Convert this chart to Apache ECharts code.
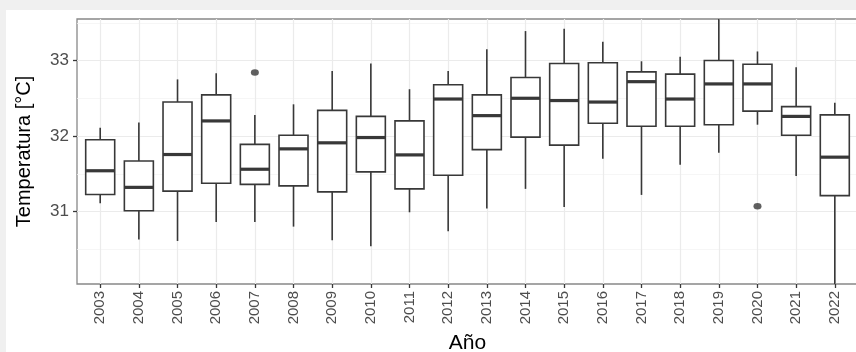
<!DOCTYPE html>
<html>
<head>
<meta charset="utf-8">
<script src="https://cdn.jsdelivr.net/npm/echarts@6/dist/echarts.min.js"></script>
<style>
  html, body { margin: 0; padding: 0; background: #f0f0f0; }
  #sheet { position: absolute; left: 6px; top: 10px; width: 850px; height: 342px; background: #fff; }
  #chart { position: absolute; left: 0; top: 0; width: 856px; height: 352px; }
</style>
</head>
<body>
<div id="sheet"></div>
<div id="chart"></div>
<script>
const years = ['2003', '2004', '2005', '2006', '2007', '2008', '2009', '2010', '2011', '2012',
  '2013', '2014', '2015', '2016', '2017', '2018', '2019', '2020', '2021', '2022'];
const whiskerLow = [31.11, 30.63, 30.61, 30.86, 30.86, 30.80, 30.62, 30.54, 30.99, 30.74,
  31.04, 31.30, 31.06, 31.70, 31.22, 31.62, 31.78, 32.15, 31.47, 30.00];
const q1 = [31.225, 31.01, 31.27, 31.375, 31.36, 31.34, 31.26, 31.525, 31.30, 31.48,
  31.82, 31.985, 31.88, 32.17, 32.13, 32.13, 32.15, 32.33, 32.01, 31.21];
const medians = [31.54, 31.32, 31.755, 32.20, 31.56, 31.83, 31.91, 31.98, 31.75, 32.49,
  32.27, 32.50, 32.47, 32.45, 32.72, 32.49, 32.69, 32.69, 32.26, 31.72];
const q3 = [31.95, 31.67, 32.45, 32.545, 31.89, 32.01, 32.34, 32.26, 32.20, 32.68,
  32.545, 32.775, 32.96, 32.97, 32.85, 32.82, 33.00, 32.95, 32.39, 32.28];
const whiskerHigh = [32.11, 32.18, 32.75, 32.83, 32.28, 32.42, 32.86, 32.96, 32.62, 32.86,
  33.15, 33.39, 33.42, 33.25, 32.99, 33.05, 33.56, 33.12, 32.91, 32.44];
const outlierYears = ['2007', '2020'];
const outlierValues = [32.84, 31.07];
const yTicks = [31, 32, 33];

const ink = '#383838';
const font = 'Liberation Sans';

const boxData = years.map((y, i) => [i, whiskerLow[i], q1[i], medians[i], q3[i], whiskerHigh[i]]);
const outlierData = outlierYears.map((y, i) => [years.indexOf(y), outlierValues[i]]);

function renderBox(params, api) {
  const x = api.value(0);
  const lo = api.coord([x, api.value(1)]);
  const a = api.coord([x, api.value(2)]);
  const m = api.coord([x, api.value(3)]);
  const b = api.coord([x, api.value(4)]);
  const hi = api.coord([x, api.value(5)]);
  const w = api.size([0.75, 0])[0];
  const line = { stroke: ink, lineWidth: 1.6 };
  return {
    type: 'group',
    children: [
      { type: 'line', shape: { x1: lo[0], y1: lo[1], x2: a[0], y2: a[1] }, style: line },
      { type: 'line', shape: { x1: b[0], y1: b[1], x2: hi[0], y2: hi[1] }, style: line },
      { type: 'rect', shape: { x: b[0] - w / 2, y: b[1], width: w, height: a[1] - b[1] },
        style: { fill: '#fff', stroke: ink, lineWidth: 1.6 } },
      { type: 'line', shape: { x1: m[0] - w / 2, y1: m[1], x2: m[0] + w / 2, y2: m[1] },
        style: { stroke: ink, lineWidth: 3.2 } }
    ]
  };
}

const chart = echarts.init(document.getElementById('chart'));
chart.setOption({
  animation: false,
  backgroundColor: 'transparent',
  textStyle: { fontFamily: font },
  grid: {
    left: 77, right: -2, top: 19, bottom: 68,
    outerBoundsMode: 'none',
    show: true, borderColor: '#888', borderWidth: 1.3, backgroundColor: 'transparent'
  },
  xAxis: {
    type: 'value',
    min: -0.6,
    max: 19.6,
    splitNumber: 20,
    name: 'Año',
    nameLocation: 'middle',
    nameGap: 45,
    nameTextStyle: { fontSize: 21, color: '#000', fontFamily: font },
    axisLine: { show: false, onZero: false },
    axisTick: { show: true, length: 4, customValues: years.map((y, i) => i),
      lineStyle: { color: ink, width: 1.3 } },
    axisLabel: {
      customValues: years.map((y, i) => i),
      rotate: 90, margin: 7, fontSize: 15, color: '#4d4d4d', fontFamily: font,
      formatter: v => years[Math.round(v)] || ''
    },
    splitLine: { show: true, lineStyle: { color: '#ebebeb', width: 1.2 } }
  },
  yAxis: {
    type: 'value',
    min: 30.04,
    max: 33.55,
    splitNumber: 3,
    name: 'Temperatura [°C]',
    nameLocation: 'middle',
    nameGap: 43,
    nameTextStyle: { fontSize: 20, color: '#000', fontFamily: font },
    axisLine: { show: false, onZero: false },
    axisTick: { show: true, length: 4, customValues: yTicks, lineStyle: { color: ink, width: 1.3 } },
    axisLabel: { customValues: yTicks, margin: 8, fontSize: 17, color: '#4d4d4d', fontFamily: font },
    splitLine: { show: true, lineStyle: { color: '#ebebeb', width: 1.2 } },
    minorTick: { show: false, splitNumber: 2 },
    minorSplitLine: { show: true, lineStyle: { color: '#f4f4f4', width: 0.8 } }
  },
  series: [
    {
      type: 'custom',
      renderItem: renderBox,
      clip: true,
      encode: { x: 0, y: [1, 2, 3, 4, 5] },
      data: boxData
    },
    {
      type: 'scatter',
      symbol: 'circle',
      symbolSize: [8, 6.5],
      itemStyle: { color: ink },
      data: outlierData
    }
  ]
});
</script>
</body>
</html>
